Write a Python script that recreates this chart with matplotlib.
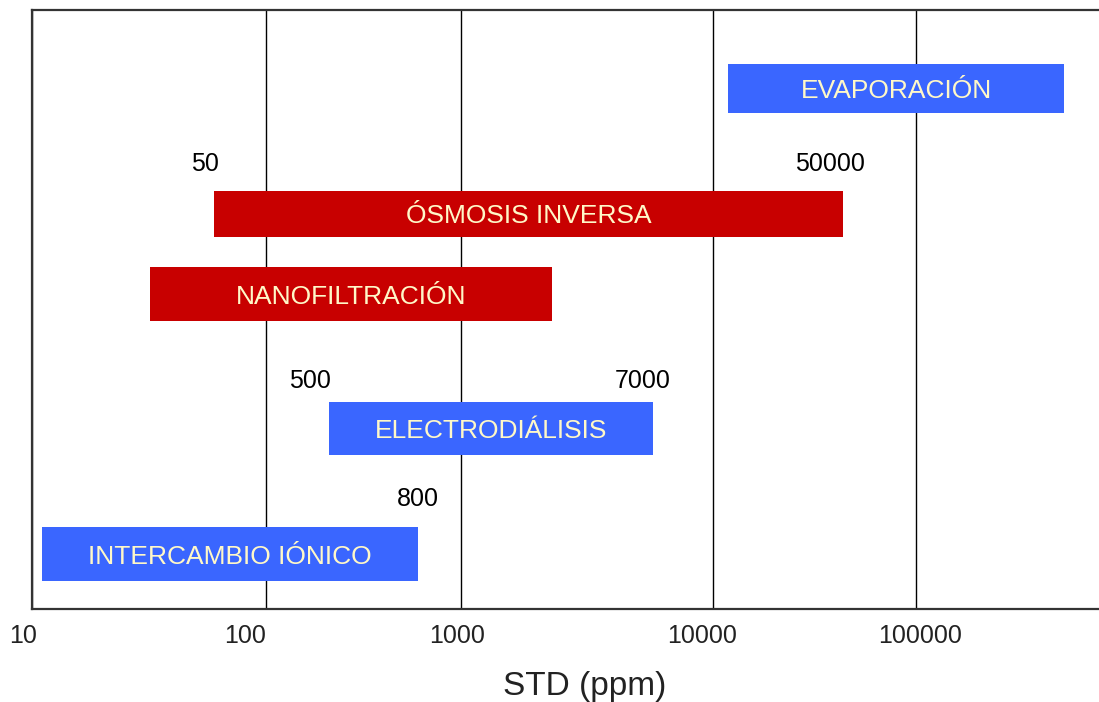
import numpy as np
import matplotlib
matplotlib.use("Agg")
import matplotlib.pyplot as plt
from matplotlib.transforms import ScaledTranslation

plt.rcParams['font.family'] = ['Liberation Sans', 'DejaVu Sans']

# ---------------- data ----------------
processes = ['EVAPORACIÓN', 'ÓSMOSIS INVERSA', 'NANOFILTRACIÓN',
             'ELECTRODIÁLISIS', 'INTERCAMBIO IÓNICO']
ppm_low = [11900, 60, 32, 210, 11]
ppm_high = [540000, 44000, 2300, 5800, 600]
bar_colors = ['#3A66FF', '#C80000', '#C80000', '#3A66FF', '#3A66FF']

limit_labels = ['50', '50000', '500', '7000', '800']
limit_x = [55, 38000, 168, 5270, 600]

tick_values = [10, 100, 1000, 10000, 100000]
tick_labels = ['10', '100', '1000', '10000', '100000']
x_limits = (10, 8e5)
x_label = 'STD (ppm)'

# ---------------- layout ----------------
rows = [5.21, 3.96, 3.155, 1.81, 0.55]
heights = [0.49, 0.46, 0.54, 0.53, 0.54]
limit_rows = [4.46, 4.46, 2.28, 2.28, 1.10]
# irregular decade spacing of the schematic log axis
decade_exp = [0, 1, 2, 3, 4, 5, 6, 7]
decade_pos = [-234, 0, 234, 429, 681, 884, 1087, 1290]
tick_offsets_px = [-9, -21, -4, -11, 4]


def forward(x):
    x = np.asarray(x, dtype=float)
    lx = np.log10(np.clip(x, 1e-12, None))
    return np.interp(lx, decade_exp, decade_pos)


def inverse(y):
    y = np.asarray(y, dtype=float)
    return 10 ** np.interp(y, decade_pos, decade_exp)


fig = plt.figure(figsize=(10.99, 7.02), dpi=100)
ax = fig.add_axes([32 / 1099, (702 - 609) / 702, 1 - 32 / 1099, 599 / 702])
ax.set_xscale('function', functions=(forward, inverse))
ax.set_xlim(*x_limits)
ax.set_ylim(0, 6)

ax.barh(rows, [h - l for l, h in zip(ppm_low, ppm_high)], left=ppm_low,
        height=heights, color=bar_colors, zorder=2)

for name, lo, hi, r in zip(processes, ppm_low, ppm_high, rows):
    xc = inverse((forward(lo) + forward(hi)) / 2)
    ax.text(xc, r, name, ha='center', va='center_baseline', color='#FFF8C8',
            fontsize=19, zorder=3)

for lab, x, r in zip(limit_labels, limit_x, limit_rows):
    ax.text(x, r, lab, ha='center', va='center', color='black', fontsize=18,
            zorder=3)

ax.set_xticks(tick_values)
ax.set_xticklabels(tick_labels)
ax.xaxis.set_minor_locator(matplotlib.ticker.NullLocator())
ax.tick_params(axis='x', length=0, pad=11, labelsize=18, labelcolor='#222222')
for lab, dx in zip(ax.get_xticklabels(), tick_offsets_px):
    lab.set_transform(lab.get_transform() +
                      ScaledTranslation(dx / 100, 0, fig.dpi_scale_trans))
ax.set_yticks([])

ax.grid(axis='x', color='black', linewidth=1.0)
ax.set_axisbelow(True)

for side in ['top', 'left', 'bottom']:
    ax.spines[side].set_color('#333333')
    ax.spines[side].set_linewidth(1.6)
ax.spines['right'].set_visible(False)

ax.set_xlabel(x_label, fontsize=24, color='#222222')
ax.xaxis.set_label_coords((585 - 32) / 1067, (609 - 686) / 599)
ax.xaxis.label.set_va('center')

fig.savefig('out.png', dpi=100)
